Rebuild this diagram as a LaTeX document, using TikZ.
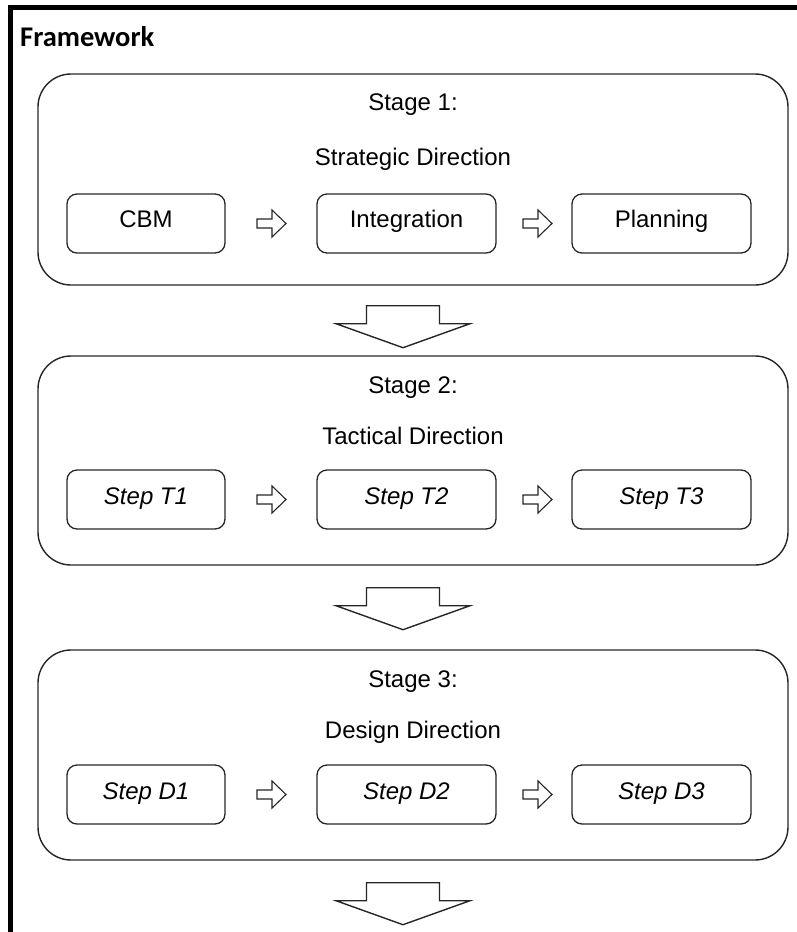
\documentclass[tikz,border=0pt]{standalone}
\usepackage{fontspec}
\setmainfont{Liberation Sans}
\newfontfamily\headfont{Carlito}
\usetikzlibrary{calc}

\begin{document}
\begin{tikzpicture}[x=1pt,y=-1pt,
  stagebox/.style={draw=black!85, line width=1.4pt, rounded corners=33pt,
    minimum width=750pt, inner sep=0pt},
  itembox/.style={draw=black!85, line width=1.3pt, rounded corners=10pt,
    minimum height=59pt, inner sep=0pt},
  txt/.style={font=\fontsize{24}{28}\selectfont, anchor=base, inner sep=0pt},
  steptxt/.style={txt, font=\fontsize{24}{28}\selectfont\itshape},
  smallarrow/.pic={
    \draw[black!85, line width=1.1pt, line join=miter, fill=white]
      (-14,-4.5) -- (1,-4.5) -- (1,-13.5) -- (15,0) -- (1,13.5)
      -- (1,4.5) -- (-14,4.5) -- cycle;
  },
  bigarrow/.pic={
    \draw[black!85, line width=1.4pt, line join=miter, fill=white]
      (-36.5,0) -- (36.5,0) -- (36.5,18) -- (67,18) -- (0,42)
      -- (-67,18) -- (-36.5,18) -- cycle;
  }]

\useasboundingbox (0,0) rectangle (797,932);

% outer frame: heavy line on the top and the left only
\draw[line width=5.5pt, line join=miter] (10.5,932) -- (10.5,7.5) -- (797,7.5);
\node[font=\headfont\bfseries\fontsize{28.5}{32}\selectfont, anchor=base west,
  inner sep=0pt] (title) at (20,46) {Framework};

% ---- Stage 1 ----
\node[stagebox, minimum height=211pt] (s1) at (413,179.5) {};
\node[txt] (s1a) at (413,110) {Stage 1:};
\node[txt] (s1b) at (413,165) {Strategic Direction};
\node[itembox, minimum width=158pt] (cbm) at (146,223.5) {};
\node[itembox, minimum width=179pt] (int) at (406.5,223.5) {};
\node[itembox, minimum width=179pt] (pla) at (661.5,223.5) {};
\node[txt] (cbmt) at ($(cbm.north)+(0,34)$) {CBM};
\node[txt] (intt) at ($(int.north)+(0,34)$) {Integration};
\node[txt] (plat) at ($(pla.north)+(0,34)$) {Planning};
\coordinate (a11) at ($(cbm.east)!0.5!(int.west)$);
\coordinate (a12) at ($(int.east)!0.5!(pla.west)+(3,0)$);
\pic at (a11) {smallarrow};
\pic at (a12) {smallarrow};

% ---- arrow down to Stage 2 ----
\coordinate (d1) at ($(s1.south)+(-10,20)$);
\pic at (d1) {bigarrow};

% ---- Stage 2 ----
\node[stagebox, minimum height=209pt] (s2) at (413,460.5) {};
\node[txt] (s2a) at (413,393) {Stage 2:};
\node[txt] (s2b) at (413,444) {Tactical Direction};
\node[itembox, minimum width=158pt] (t1) at (146,499.5) {};
\node[itembox, minimum width=179pt] (t2) at (406.5,499.5) {};
\node[itembox, minimum width=179pt] (t3) at (661.5,499.5) {};
\node[steptxt] (t1t) at ($(t1.north)+(0,35)$) {Step T1};
\node[steptxt] (t2t) at ($(t2.north)+(0,35)$) {Step T2};
\node[steptxt] (t3t) at ($(t3.north)+(0,35)$) {Step T3};
\coordinate (a21) at ($(t1.east)!0.5!(t2.west)$);
\coordinate (a22) at ($(t2.east)!0.5!(t3.west)+(3,0)$);
\pic at (a21) {smallarrow};
\pic at (a22) {smallarrow};

% ---- arrow down to Stage 3 ----
\coordinate (d2) at ($(s2.south)+(-10,22)$);
\pic at (d2) {bigarrow};

% ---- Stage 3 ----
\node[stagebox, minimum height=210pt] (s3) at (413,755) {};
\node[txt] (s3a) at (413,687) {Stage 3:};
\node[txt] (s3b) at (413,738) {Design Direction};
\node[itembox, minimum width=158pt] (d1b) at (146,794.5) {};
\node[itembox, minimum width=179pt] (d2b) at (406.5,794.5) {};
\node[itembox, minimum width=179pt] (d3b) at (661.5,794.5) {};
\node[steptxt] (d1t) at ($(d1b.north)+(0,35)$) {Step D1};
\node[steptxt] (d2t) at ($(d2b.north)+(0,35)$) {Step D2};
\node[steptxt] (d3t) at ($(d3b.north)+(0,35)$) {Step D3};
\coordinate (a31) at ($(d1b.east)!0.5!(d2b.west)$);
\coordinate (a32) at ($(d2b.east)!0.5!(d3b.west)+(3,0)$);
\pic at (a31) {smallarrow};
\pic at (a32) {smallarrow};

% ---- trailing arrow below Stage 3 ----
\coordinate (d3) at ($(s3.south)+(-10,22)$);
\pic at (d3) {bigarrow};

\end{tikzpicture}
\end{document}
